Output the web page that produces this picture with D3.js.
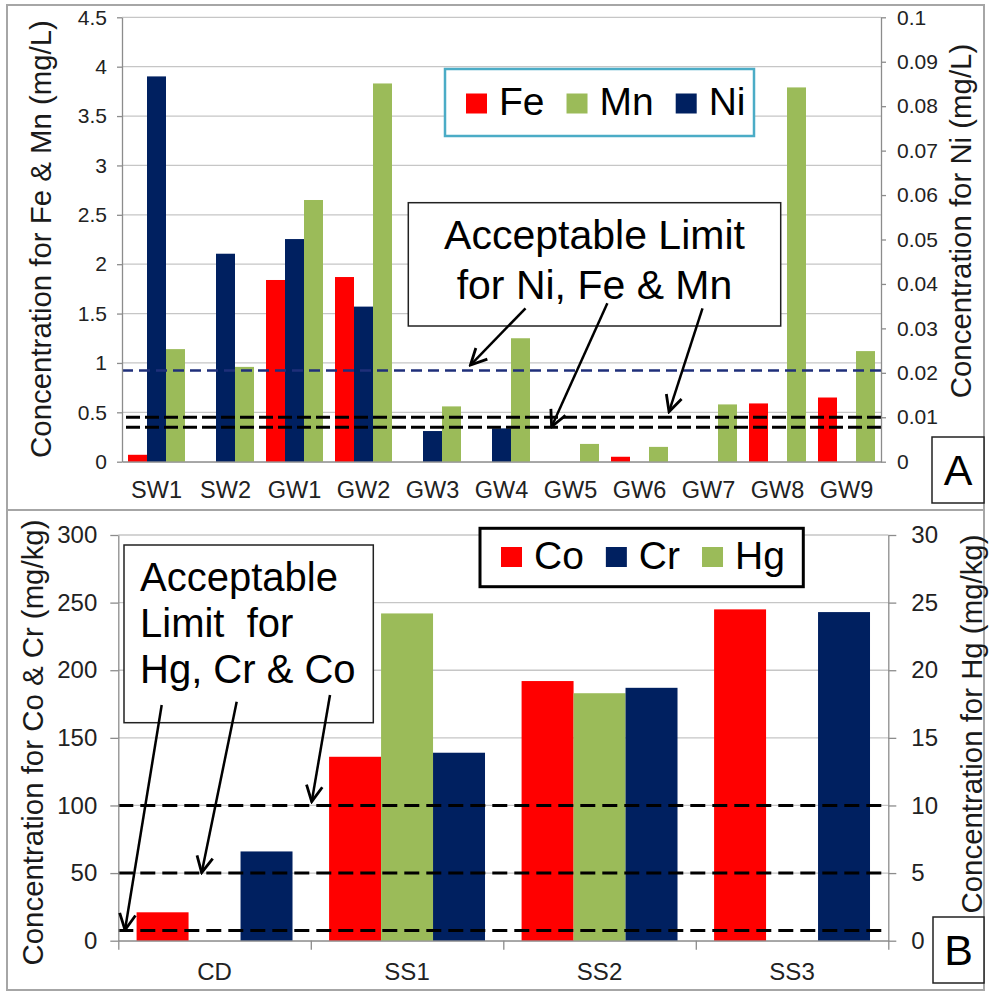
<!DOCTYPE html>
<html>
<head>
<meta charset="utf-8">
<script src="https://cdnjs.cloudflare.com/ajax/libs/d3/7.8.5/d3.min.js"></script>
<style>
  body { margin: 0; background: #fff; }
  svg text { font-family: "Liberation Sans", Arial, sans-serif; }
</style>
</head>
<body>
<div id="chart"></div>
<script>
// Panel A - water samples (mg/L)
var sitesA = ["SW1", "SW2", "GW1", "GW2", "GW3", "GW4", "GW5", "GW6", "GW7", "GW8", "GW9"];
var feA = [0.07, 0, 1.84, 1.87, 0, 0, 0, 0.05, 0, 0.59, 0.65];
var niA = [0.0867, 0.0468, 0.0501, 0.0349, 0.0069, 0.0075, 0, 0, 0, 0, 0];
var mnA = [1.14, 0.96, 2.65, 3.83, 0.56, 1.25, 0.18, 0.15, 0.58, 3.79, 1.12];
var ticksLeftA = [0, 0.5, 1, 1.5, 2, 2.5, 3, 3.5, 4, 4.5];
var ticksRightA = [0, 0.01, 0.02, 0.03, 0.04, 0.05, 0.06, 0.07, 0.08, 0.09, 0.1];
var limitNiA = 0.0205;          // right axis
var limitsFeMnA = [0.35, 0.45]; // left axis

// Panel B - soil samples (mg/kg)
var sitesB = ["CD", "SS1", "SS2", "SS3"];
var coB = [21, 136, 192, 245];
var hgB = [0, 24.2, 18.3, 0];
var crB = [66, 139, 187, 243];
var ticksLeftB = [0, 50, 100, 150, 200, 250, 300];
var ticksRightB = [0, 5, 10, 15, 20, 25, 30];
var limitsB = [7.5, 50, 100]; // left axis

var colors = { Fe: "#ff0000", Co: "#ff0000", Ni: "#002060", Cr: "#002060", Mn: "#9bbb59", Hg: "#9bbb59" };
var gridColor = "#c6c6c6", axisColor = "#8c8c8c";
var fmt = function(d) { return String(+d.toFixed(3)); };

var svg = d3.select("#chart").append("svg")
    .attr("width", 989)
    .attr("height", 994);

var defs = svg.append("defs");
defs.append("marker")
    .attr("id", "arrowOpen")
    .attr("viewBox", "0 0 20 20")
    .attr("refX", 18).attr("refY", 10)
    .attr("markerWidth", 20).attr("markerHeight", 20)
    .attr("markerUnits", "userSpaceOnUse")
    .attr("orient", "auto")
    .append("path")
    .attr("d", "M2,2 L18,10 L2,18")
    .attr("fill", "none")
    .attr("stroke", "#000")
    .attr("stroke-width", 2.8);

// Outer frame and separator
svg.append("rect")
    .attr("x", 7).attr("y", 5).attr("width", 977).attr("height", 985)
    .attr("fill", "none").attr("stroke", "#a6a6a6").attr("stroke-width", 2);
svg.append("line")
    .attr("x1", 7).attr("x2", 984).attr("y1", 510).attr("y2", 510)
    .attr("stroke", "#a6a6a6").attr("stroke-width", 2);

function styleAxis(g, fs) {
    g.select(".domain").attr("stroke", axisColor).attr("stroke-width", 1.3);
    g.selectAll(".tick line").attr("stroke", axisColor).attr("stroke-width", 1.3);
    g.selectAll("text")
        .attr("font-size", fs)
        .attr("font-family", "Liberation Sans, Arial, sans-serif")
        .attr("fill", "#222");
}

function gridLines(p) {
    svg.append("g").selectAll("line")
        .data(p.ticksL).enter().append("line")
        .attr("x1", p.left).attr("x2", p.right)
        .attr("y1", function(d) { return p.yL(d); })
        .attr("y2", function(d) { return p.yL(d); })
        .attr("stroke", gridColor).attr("stroke-width", 1.3);
}

function yAxes(p) {
    var gl = svg.append("g")
        .attr("transform", "translate(" + p.left + ",0)")
        .call(d3.axisLeft(p.yL).tickValues(p.ticksL).tickFormat(fmt)
            .tickSizeInner(p.tick).tickSizeOuter(0).tickPadding(p.padL));
    styleAxis(gl, p.tickFont);
    var gr = svg.append("g")
        .attr("transform", "translate(" + p.right + ",0)")
        .call(d3.axisRight(p.yR).tickValues(p.ticksR).tickFormat(fmt)
            .tickSizeInner(p.tick).tickSizeOuter(0).tickPadding(p.padR));
    styleAxis(gr, p.tickFont);
}

function axisTitle(text, cx, cy) {
    svg.append("text")
        .attr("transform", "translate(" + cx + "," + cy + ") rotate(-90)")
        .attr("text-anchor", "middle")
        .attr("dy", "0.35em")
        .attr("font-size", 29.4)
        .attr("fill", "#1a1a1a")
        .text(text);
}

function legend(items, box, stroke, strokeWidth, fs, sqY, baseY) {
    svg.append("rect")
        .attr("x", box.x).attr("y", box.y).attr("width", box.w).attr("height", box.h)
        .attr("fill", "#fff").attr("stroke", stroke).attr("stroke-width", strokeWidth);
    var x = box.x + 21;
    items.forEach(function(k) {
        svg.append("rect")
            .attr("x", x).attr("y", sqY).attr("width", 21).attr("height", 20)
            .attr("fill", colors[k]);
        var t = svg.append("text")
            .attr("x", x + 33).attr("y", baseY)
            .attr("font-size", fs).attr("fill", "#000")
            .text(k);
        x += 33 + t.node().getComputedTextLength() + 22;
    });
}

function labelBox(letter, x, y, w, h, base) {
    svg.append("rect")
        .attr("x", x).attr("y", y).attr("width", w).attr("height", h)
        .attr("fill", "#fff").attr("stroke", "#222").attr("stroke-width", 1.5);
    svg.append("text")
        .attr("x", x + w / 2).attr("y", base)
        .attr("text-anchor", "middle")
        .attr("font-size", 43).attr("fill", "#000")
        .text(letter);
}

function arrows(list, xi, y) {
    svg.append("g").selectAll("line")
        .data(list).enter().append("line")
        .attr("x1", function(d) { return xi(d[0]); })
        .attr("y1", function(d) { return y(d[1]); })
        .attr("x2", function(d) { return xi(d[2]); })
        .attr("y2", function(d) { return y(d[3]); })
        .attr("stroke", "#000").attr("stroke-width", 2.5)
        .attr("marker-end", "url(#arrowOpen)");
}

// ---------------- Panel A ----------------
var A = { left: 122, right: 881, top: 17.3, bottom: 461.7 };
var xA = d3.scaleBand().domain(sitesA).range([A.left, A.right]).paddingInner(0.174).paddingOuter(0.087);
var xsA = d3.scaleBand().domain(["Fe", "Ni", "Mn"]).range([0, xA.bandwidth()]);
var xiA = d3.scaleLinear().domain([0, sitesA.length]).range([A.left, A.right]);
var yA = d3.scaleLinear().domain([0, 4.5]).range([A.bottom, A.top]);
var yA2 = d3.scaleLinear().domain([0, 0.1]).range([A.bottom, A.top]);

gridLines({ ticksL: ticksLeftA, yL: yA, left: A.left, right: A.right });

var rowsA = [];
sitesA.forEach(function(s, i) {
    rowsA.push({ site: s, key: "Fe", value: feA[i], y: yA });
    rowsA.push({ site: s, key: "Ni", value: niA[i], y: yA2 });
    rowsA.push({ site: s, key: "Mn", value: mnA[i], y: yA });
});

svg.append("g").selectAll("rect")
    .data(rowsA).enter().append("rect")
    .attr("x", function(d) { return xA(d.site) + xsA(d.key); })
    .attr("width", xsA.bandwidth())
    .attr("y", function(d) { return d.y(d.value); })
    .attr("height", function(d) { return A.bottom - d.y(d.value); })
    .attr("fill", function(d) { return colors[d.key]; });

// Limit lines
svg.append("line")
    .attr("x1", A.left).attr("x2", A.right)
    .attr("y1", yA2(limitNiA)).attr("y2", yA2(limitNiA))
    .attr("stroke", "#1f2f7a").attr("stroke-width", 2.5)
    .attr("stroke-dasharray", "11,6");
svg.append("g").selectAll("line")
    .data(limitsFeMnA).enter().append("line")
    .attr("x1", A.left + 4).attr("x2", A.right)
    .attr("y1", function(d) { return yA(d); })
    .attr("y2", function(d) { return yA(d); })
    .attr("stroke", "#000").attr("stroke-width", 3)
    .attr("stroke-dasharray", "14,5");

yAxes({ left: A.left, right: A.right, yL: yA, yR: yA2, ticksL: ticksLeftA, ticksR: ticksRightA,
        tick: 5, padL: 10, padR: 11, tickFont: 21 });

var xAxisA = svg.append("g")
    .attr("transform", "translate(0," + A.bottom + ")")
    .call(d3.axisBottom(xA).tickSize(0).tickPadding(20));
styleAxis(xAxisA, 23.5);

axisTitle("Concentration for Fe & Mn (mg/L)", 41, 239);
axisTitle("Concentration for Ni (mg/L)", 961, 221);

legend(["Fe", "Mn", "Ni"], { x: 445, y: 69, w: 309, h: 67 }, "#4bacc6", 2.5, 39, 93.5, 115);

// Annotation A
svg.append("rect")
    .attr("x", 408.3).attr("y", 202.7).attr("width", 372.4).attr("height", 123.3)
    .attr("fill", "#fff").attr("stroke", "#222").attr("stroke-width", 1.5);
svg.append("text")
    .attr("x", 594.5).attr("y", 248.5)
    .attr("text-anchor", "middle").attr("font-size", 41).attr("fill", "#000")
    .text("Acceptable Limit");
svg.append("text")
    .attr("x", 594.5).attr("y", 298.5)
    .attr("text-anchor", "middle").attr("font-size", 41).attr("fill", "#000")
    .text("for Ni, Fe & Mn");

// arrows in data space: [index start, value start, index end, value end]
arrows([
    [5.848, 1.553, 5.050, 0.979],
    [7.034, 1.604, 6.226, 0.354],
    [8.413, 1.553, 7.928, 0.506]
], xiA, yA);

labelBox("A", 932, 437, 52, 66, 485);

// ---------------- Panel B ----------------
var B = { left: 118.3, right: 888.3, top: 535, bottom: 940.7 };
var xB = d3.scaleBand().domain(sitesB).range([B.left, B.right]).paddingInner(0.19).paddingOuter(0.095);
var xsB = d3.scaleBand().domain(["Co", "Hg", "Cr"]).range([0, xB.bandwidth()]);
var xiB = d3.scaleLinear().domain([0, sitesB.length]).range([B.left, B.right]);
var yB = d3.scaleLinear().domain([0, 300]).range([B.bottom, B.top]);
var yB2 = d3.scaleLinear().domain([0, 30]).range([B.bottom, B.top]);

gridLines({ ticksL: ticksLeftB, yL: yB, left: B.left, right: B.right });

var rowsB = [];
sitesB.forEach(function(s, i) {
    rowsB.push({ site: s, key: "Co", value: coB[i], y: yB });
    rowsB.push({ site: s, key: "Hg", value: hgB[i], y: yB2 });
    rowsB.push({ site: s, key: "Cr", value: crB[i], y: yB });
});

svg.append("g").selectAll("rect")
    .data(rowsB).enter().append("rect")
    .attr("x", function(d) { return xB(d.site) + xsB(d.key); })
    .attr("width", xsB.bandwidth())
    .attr("y", function(d) { return d.y(d.value); })
    .attr("height", function(d) { return B.bottom - d.y(d.value); })
    .attr("fill", function(d) { return colors[d.key]; });

svg.append("g").selectAll("line")
    .data(limitsB).enter().append("line")
    .attr("x1", B.left).attr("x2", B.right)
    .attr("y1", function(d) { return yB(d); })
    .attr("y2", function(d) { return yB(d); })
    .attr("stroke", "#000").attr("stroke-width", 3)
    .attr("stroke-dasharray", "15,7");

yAxes({ left: B.left, right: B.right, yL: yB, yR: yB2, ticksL: ticksLeftB, ticksR: ticksRightB,
        tick: 8, padL: 13, padR: 15, tickFont: 24 });

// category boundary ticks
var xTicksB = svg.append("g")
    .attr("transform", "translate(0," + B.bottom + ")")
    .call(d3.axisBottom(xiB).tickValues(d3.range(sitesB.length + 1)).tickFormat("").tickSize(9).tickSizeOuter(0));
styleAxis(xTicksB, 12);
var xAxisB = svg.append("g")
    .attr("transform", "translate(0," + B.bottom + ")")
    .call(d3.axisBottom(xB).tickSize(0).tickPadding(22));
xAxisB.select(".domain").remove();
styleAxis(xAxisB, 24);

axisTitle("Concentration for Co & Cr (mg/kg)", 33, 742.5);
axisTitle("Concentration for Hg (mg/kg)", 972, 724);

legend(["Co", "Cr", "Hg"], { x: 480, y: 528.3, w: 323.3, h: 58.4 }, "#000", 3, 39, 547, 569);

// Annotation B
svg.append("rect")
    .attr("x", 124).attr("y", 545).attr("width", 249.3).attr("height", 177.7)
    .attr("fill", "#fff").attr("stroke", "#222").attr("stroke-width", 1.5);
var noteB = svg.append("text")
    .attr("x", 140).attr("y", 590.7)
    .attr("font-size", 40).attr("fill", "#000")
    .attr("xml:space", "preserve")
    .style("white-space", "pre");
["Acceptable", "Limit  for", "Hg, Cr & Co"].forEach(function(line, i) {
    noteB.append("tspan").attr("x", 140).attr("dy", i === 0 ? 0 : 46).text(line);
});

arrows([
    [0.2255, 174.3, 0.0348, 7.9],
    [0.615, 176.7, 0.433, 50.3],
    [1.0997, 181.7, 1.0047, 102.8]
], xiB, yB);

labelBox("B", 933, 917, 51, 66, 965);
</script>
</body>
</html>
